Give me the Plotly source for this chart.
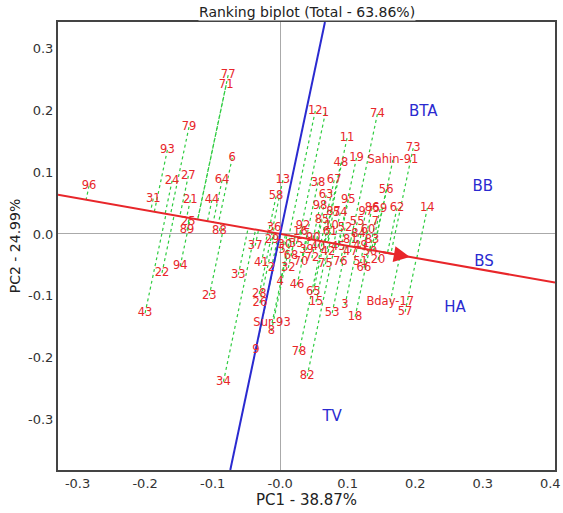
import numpy as np
import plotly.graph_objects as go

# Genotype labels and PC scores
genotypes = ["77", "71", "79", "93", "6", "96", "24", "27", "64", "31", "21", "44", "25", "89", "88",
             "22", "94", "23", "43", "33", "37", "41", "36", "13", "58", "12", "1", "74", "11", "48",
             "19", "Sahin-91", "73", "38", "67", "63", "54", "56", "86", "59", "62", "14", "32", "2",
             "4", "46", "65", "15", "28", "26", "53", "3", "18", "Bday-17", "57", "Sur-93", "8", "9",
             "78", "82", "34",
             "29", "30", "35", "39", "40", "42", "45", "47", "49", "50", "51", "52", "55", "60", "61",
             "66", "68", "70", "72", "75", "76", "81", "83", "84", "85", "87", "90", "92", "95", "97",
             "98", "5", "7", "10", "16", "20"]
pc1 = [-0.077, -0.080, -0.135, -0.167, -0.071, -0.283, -0.160, -0.136, -0.086, -0.188, -0.133, -0.101,
       -0.136, -0.138, -0.090, -0.175, -0.148, -0.105, -0.200, -0.062, -0.037, -0.028, -0.009, 0.004,
       -0.006, 0.052, 0.067, 0.144, 0.099, 0.090, 0.113, 0.167, 0.197, 0.056, 0.080, 0.068, 0.089,
       0.157, 0.136, 0.148, 0.173, 0.218, 0.012, -0.013, 0.000, 0.025, 0.049, 0.053, -0.031, -0.030,
       0.077, 0.096, 0.111, 0.163, 0.185, -0.012, -0.013, -0.036, 0.028, 0.040, -0.084,
       -0.012, 0.007, 0.024, 0.039, 0.056, 0.071, 0.086, 0.104, 0.119, 0.133, 0.119, 0.096, 0.114,
       0.130, 0.074, 0.124, 0.016, 0.031, 0.047, 0.067, 0.089, 0.104, 0.136, 0.116, 0.062, 0.079,
       0.049, 0.034, 0.101, 0.127, 0.059, 0.003, 0.141, 0.076, 0.030, 0.145]
pc2 = [0.257, 0.241, 0.173, 0.136, 0.123, 0.078, 0.086, 0.094, 0.087, 0.057, 0.055, 0.055,
       0.019, 0.006, 0.005, -0.063, -0.052, -0.100, -0.128, -0.066, -0.019, -0.047, 0.010, 0.087,
       0.061, 0.199, 0.196, 0.194, 0.155, 0.115, 0.123, 0.120, 0.139, 0.083, 0.087, 0.063, 0.034,
       0.071, 0.042, 0.040, 0.042, 0.042, -0.055, -0.055, -0.078, -0.083, -0.094, -0.110, -0.097,
       -0.112, -0.128, -0.115, -0.134, -0.110, -0.126, -0.144, -0.157, -0.188, -0.191, -0.230, -0.239,
       -0.010, -0.018, -0.016, -0.026, -0.021, -0.029, -0.021, -0.029, -0.019, -0.029, -0.045, 0.010,
       0.019, 0.006, 0.003, -0.055, -0.036, -0.045, -0.039, -0.049, -0.045, -0.010, -0.010, 0.000,
       0.023, 0.036, -0.006, 0.013, 0.055, 0.036, 0.045, -0.026, 0.019, 0.013, 0.003, -0.042]

# Environments (traits)
environments = ["BTA", "BB", "BS", "HA", "TV"]
env_pc1 = [0.212, 0.300, 0.302, 0.259, 0.077]
env_pc2 = [0.197, 0.076, -0.045, -0.120, -0.296]

# Average environment axis slope (PC2 per PC1)
aec_slope = -0.1934

xtick_vals = [-0.3, -0.2, -0.1, 0.0, 0.1, 0.2, 0.3, 0.4]
xtick_text = ["-0.3", "-0.2", "-0.1", "-0.0", "0.1", "0.2", "0.3", "0.4"]
ytick_vals = [-0.3, -0.2, -0.1, 0.0, 0.1, 0.2, 0.3]
ytick_text = ["-0.3", "-0.2", "-0.1", "0.0", "0.1", "0.2", "0.3"]

xr = [-0.329, 0.407]
yr = [-0.382, 0.343]

FONT = "DejaVu Sans"

fig = go.Figure()

# projections of genotypes onto the AEC abscissa
u = np.array([1.0, aec_slope]) / np.hypot(1.0, aec_slope)
gx, gy = [], []
for a, b in zip(pc1, pc2):
    t = a * u[0] + b * u[1]
    gx += [a, t * u[0], None]
    gy += [b, t * u[1], None]
fig.add_trace(go.Scatter(x=gx, y=gy, mode="lines",
                         line=dict(color="#2ecc40", width=1.2, dash="dot"),
                         hoverinfo="skip", showlegend=False))

# AEC abscissa (red)
fig.add_trace(go.Scatter(x=[xr[0], xr[1]], y=[aec_slope * xr[0], aec_slope * xr[1]],
                         mode="lines", line=dict(color="#e8262a", width=2),
                         showlegend=False, hoverinfo="skip"))
# AEC ordinate (blue), perpendicular in data units
perp = -1.0 / aec_slope
fig.add_trace(go.Scatter(x=[yr[0] / perp, yr[1] / perp], y=[yr[0], yr[1]],
                         mode="lines", line=dict(color="#2a2ad0", width=2),
                         showlegend=False, hoverinfo="skip"))

# genotype labels
fig.add_trace(go.Scatter(x=pc1, y=pc2, mode="text", text=genotypes,
                         textfont=dict(color="#e8262a", size=11.5, family=FONT),
                         showlegend=False))
# environment labels
fig.add_trace(go.Scatter(x=env_pc1, y=env_pc2, mode="text", text=environments,
                         textfont=dict(color="#2a2ad0", size=15, family=FONT),
                         showlegend=False))

# arrow on AEC
fig.add_annotation(x=0.192, y=aec_slope * 0.192, ax=0.15, ay=aec_slope * 0.15,
                   xref="x", yref="y", axref="x", ayref="y", showarrow=True,
                   arrowhead=2, arrowsize=1.6, arrowwidth=2, arrowcolor="#e8262a", text="")

fig.add_annotation(text="Ranking biplot (Total - 63.86%)", xref="paper", yref="paper",
                   x=0.5, y=1, yanchor="middle", yshift=10, showarrow=False,
                   bgcolor="white", borderpad=0,
                   font=dict(size=14, color="#222", family=FONT))

fig.update_xaxes(range=xr, tickvals=xtick_vals, ticktext=xtick_text, automargin=False,
                 showgrid=False, zeroline=True, zerolinecolor="#aaaaaa", zerolinewidth=1,
                 showline=True, mirror=True, linecolor="#444", linewidth=2,
                 ticks="", ticklabeloverflow="allow",
                 tickfont=dict(size=13, color="#333", family=FONT),
                 title=dict(text="PC1 - 38.87%", standoff=0,
                            font=dict(size=15, color="#222", family=FONT)))
fig.update_yaxes(range=yr, tickvals=ytick_vals, ticktext=ytick_text, automargin=False,
                 showgrid=False, zeroline=True, zerolinecolor="#aaaaaa", zerolinewidth=1,
                 showline=True, mirror=True, linecolor="#444", linewidth=2,
                 ticks="", tickfont=dict(size=13, color="#333", family=FONT),
                 title=dict(text="PC2 - 24.99%", standoff=4,
                            font=dict(size=14, color="#222", family=FONT)))

fig.update_layout(width=563, height=513, margin=dict(l=58, r=8, t=22, b=43),
                  plot_bgcolor="white", paper_bgcolor="white")

# remove the default page margin so the figure fills the window exactly
fig.write_html("out.html", config={"displayModeBar": False},
               post_script="document.body.style.margin='0';")
